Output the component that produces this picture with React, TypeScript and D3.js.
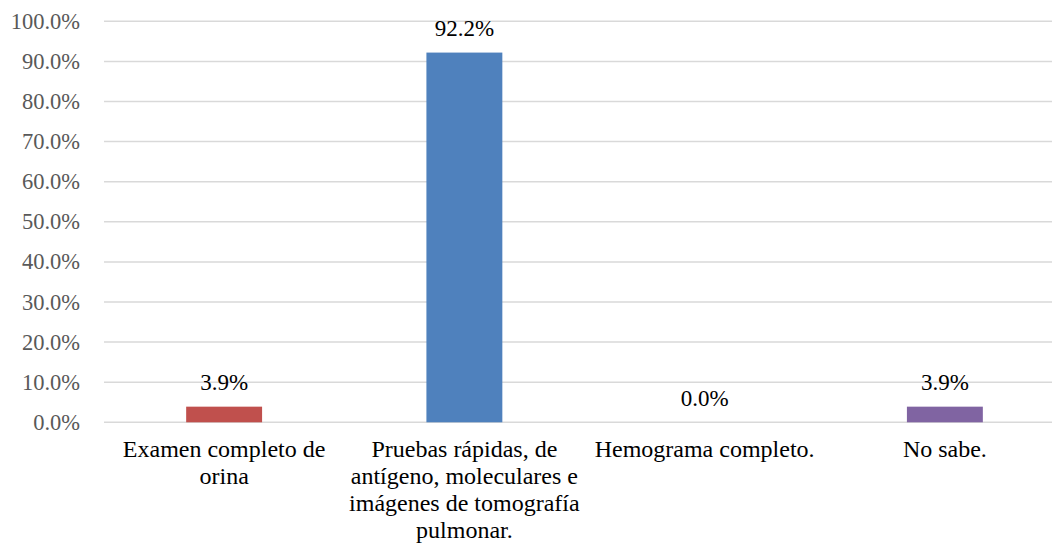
import React from "react";
import * as d3 from "d3";

const categories: string[][] = [
  ["Examen completo de", "orina"],
  ["Pruebas rápidas, de", "antígeno, moleculares e", "imágenes de tomografía", "pulmonar."],
  ["Hemograma completo."],
  ["No sabe."],
];
const values: number[] = [3.9, 92.2, 0.0, 3.9];
const colors: string[] = ["#C0504D", "#4F81BD", "#9BBB59", "#8064A2"];
const yTicks: number[] = [0, 10, 20, 30, 40, 50, 60, 70, 80, 90, 100];

const W = 1052;
const H = 545;
const FONT = '"Liberation Serif", "Times New Roman", Tinos, Times, serif';

export default function App() {
  const x = d3
    .scaleBand<number>()
    .domain(values.map((_, i) => i))
    .range([104, 1065])
    .paddingInner(0.684)
    .paddingOuter(0.342);
  const y = d3.scaleLinear().domain([0, 100]).range([422.3, 21.3]);
  const fmt = (v: number) => v.toFixed(1) + "%";

  return (
    <svg width={W} height={H} style={{ position: "absolute", left: 0, top: 0 }} fontFamily={FONT}>
      <style>{`svg text { font-family: ${FONT} !important; }`}</style>
      <rect x={0} y={0} width={W} height={H} fill="#fff" />
      {yTicks.map((t) => (
        <g key={t}>
          <line x1={104} x2={1065} y1={y(t)} y2={y(t)} stroke="#D9D9D9" strokeWidth={1.5} />
          <text x={80} y={y(t) + 7.5} textAnchor="end" fontSize={22.5} fill="#595959" fontFamily={FONT} style={{ fontFamily: FONT }}>
            {fmt(t)}
          </text>
        </g>
      ))}
      {values.map((v, i) => {
        const bx = x(i)!;
        const bw = x.bandwidth();
        const cx = bx + bw / 2;
        return (
          <g key={i}>
            <rect x={bx} y={y(v)} width={bw} height={y(0) - y(v)} fill={colors[i]} />
            <text x={cx} y={y(v) - 16.5} textAnchor="middle" fontSize={23} fill="#000" fontFamily={FONT} style={{ fontFamily: FONT }}>
              {fmt(v)}
            </text>
            {categories[i].map((line, j) => (
              <text key={j} x={cx} y={457.3 + j * 26.9} textAnchor="middle" fontSize={24} fill="#000" fontFamily={FONT} style={{ fontFamily: FONT }}>
                {line}
              </text>
            ))}
          </g>
        );
      })}
    </svg>
  );
}
